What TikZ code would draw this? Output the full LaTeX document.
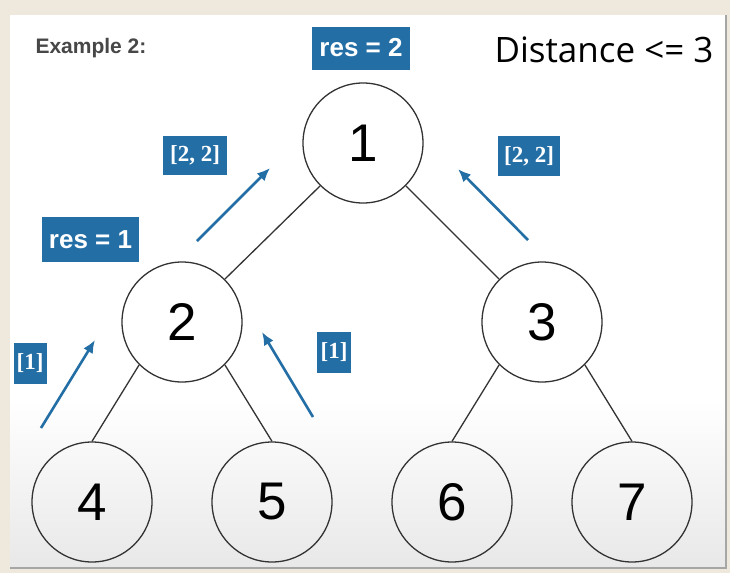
\documentclass[tikz,border=0pt]{standalone}
\usepackage{fontspec}
\usepackage{tikz}
\usetikzlibrary{arrows.meta}
\newfontfamily\arialf{Liberation Sans}
\newfontfamily\timesf{Liberation Serif}
\newfontfamily\distf{Open Sans}
\definecolor{resblue}{RGB}{36,110,166}
\definecolor{paper}{RGB}{239,233,221}
\tikzset{
	treenode/.style={draw=black!80, circle, line width=1.3pt, minimum size=120pt, inner sep=0pt, font=\arialf\fontsize{53}{53}\selectfont},
	bluebox/.style={fill=resblue, text=white, inner sep=0pt},
	resbox/.style={bluebox, font=\arialf\bfseries\fontsize{26}{26}\selectfont},
	listbox/.style={bluebox, font=\timesf\bfseries\fontsize{23}{23}\selectfont},
	passarrow/.style={resblue, line width=2.6pt, -{Latex[length=13pt,width=11pt]}}
}
\begin{document}
\begin{tikzpicture}[x=1pt,y=-1pt]
	%Sfondo
	\fill[paper] (0,0) rectangle (730,573);
	\fill[white] (10,15) rectangle (726,568);
	\shade[top color=white, bottom color=black!9] (10,400) rectangle (726,568);
	\draw[black!35, line width=1.5pt] (726,15) -- (726,568) -- (10,568);
	\useasboundingbox (0,0) rectangle (730,573);
	%Titoli
	\node [anchor=base west, text=black!72, font=\arialf\bfseries\fontsize{21}{21}\selectfont] (title) at (32,53) {Example 2:};
	\node [anchor=base west, font=\distf\fontsize{35}{35}\selectfont] (dist) at (491,62) {Distance <= 3};
	%Nodi
	\node [treenode] (n1) at (363,143) {1};
	\node [treenode] (n2) at (182,322) {2};
	\node [treenode] (n3) at (542,322) {3};
	\node [treenode] (n4) at (92,502) {4};
	\node [treenode] (n5) at (272,502) {5};
	\node [treenode] (n6) at (452,502) {6};
	\node [treenode] (n7) at (632,502) {7};
	%Collegamenti
	\draw [black!80, line width=1.3pt] (n1.south west) -- (n2.north east);
	\draw [black!80, line width=1.3pt] (n1.south east) -- (n3.north west);
	\draw [black!80, line width=1.3pt] (n2.south west) -- (n4.north);
	\draw [black!80, line width=1.3pt] (n2.south east) -- (n5.north);
	\draw [black!80, line width=1.3pt] (n3.south west) -- (n6.north);
	\draw [black!80, line width=1.3pt] (n3.south east) -- (n7.north);
	%Risultati
	\node [resbox, minimum width=98pt, minimum height=43pt] (res2) at (361,48) {res = 2};
	\node [resbox, minimum width=97pt, minimum height=45pt] (res1) at (90.5,239.5) {res = 1};
	\node [listbox, minimum width=64pt, minimum height=39pt] (l12) at (195,155.5) {[2, 2]};
	\node [listbox, minimum width=62pt, minimum height=40pt] (l13) at (529,156) {[2, 2]};
	\node [listbox, minimum width=33pt, minimum height=41pt] (l24) at (30,363) {[1]};
	\node [listbox, minimum width=34pt, minimum height=41pt] (l25) at (334,352.5) {[1]};
	%Frecce
	\coordinate (a1s) at (197,241);
	\coordinate (a1e) at (270,168);
	\coordinate (a2s) at (528,240);
	\coordinate (a2e) at (458,169);
	\coordinate (a3s) at (41,428);
	\coordinate (a3e) at (95,340);
	\coordinate (a4s) at (313,417);
	\coordinate (a4e) at (262,332);
	\draw [passarrow] (a1s) -- (a1e);
	\draw [passarrow] (a2s) -- (a2e);
	\draw [passarrow] (a3s) -- (a3e);
	\draw [passarrow] (a4s) -- (a4e);
\end{tikzpicture}
\end{document}
